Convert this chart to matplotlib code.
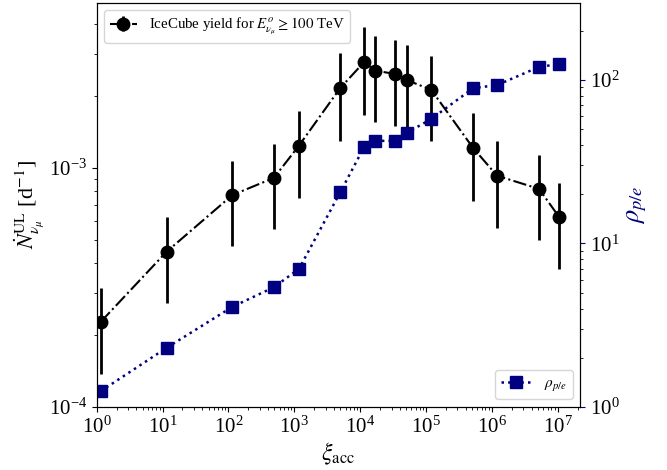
import matplotlib
matplotlib.use("Agg")
import matplotlib.pyplot as plt
from matplotlib.ticker import LogLocator

plt.rcParams['font.family'] = ['Liberation Serif', 'DejaVu Serif']
plt.rcParams['mathtext.fontset'] = 'stix'

# xi_acc values
xi_acc = [1.15, 11.5, 115, 490, 1180, 5000, 1.15e4, 1.7e4, 3.4e4, 5.1e4,
          1.2e5, 5.2e5, 1.2e6, 5.2e6, 1.05e7]
# IceCube yield (upper limit rate, 1/day) and errors
n_ul = [2.27e-4, 4.46e-4, 7.7e-4, 9.08e-4, 1.24e-3, 2.16e-3, 2.77e-3, 2.55e-3,
        2.47e-3, 2.33e-3, 2.12e-3, 1.21e-3, 9.27e-4, 8.17e-4, 6.23e-4]
n_err = [0.89e-4, 1.75e-4, 3.0e-4, 3.55e-4, 4.9e-4, 8.6e-4, 1.1e-3, 1.0e-3,
         9.7e-4, 9.2e-4, 8.3e-4, 4.8e-4, 3.65e-4, 3.2e-4, 2.45e-4]
# proton-to-electron ratio
rho_pe = [1.25, 2.3, 4.1, 5.4, 7.0, 20.6, 38.9, 42.4, 42.4, 47.4,
          57.7, 89, 93, 120, 125]

fig, ax = plt.subplots(figsize=(6.67, 4.7), dpi=100)
fig.subplots_adjust(left=0.145, right=0.87, bottom=0.134, top=0.994)

ax.errorbar(xi_acc, n_ul, yerr=n_err, fmt='o', ls='-.', color='black',
            ms=9, lw=1.5, elinewidth=2,
            label=r'IceCube yield for $E^{o}_{\nu_\mu} \geq 100$ TeV')
ax.set_xscale('log')
ax.set_yscale('log')
ax.set_xlim(1, 2.2e7)
ax.set_ylim(1e-4, 4.9e-3)
ax.xaxis.set_major_locator(LogLocator(base=10, numticks=20))
ax.xaxis.set_minor_locator(LogLocator(base=10, subs=range(2, 10), numticks=20))
ax.set_xlabel(r'$\xi_{\rm acc}$', fontsize=17, labelpad=2)
ax.set_ylabel(r'$\dot{N}^{\rm UL}_{\nu_\mu}$ [d$^{-1}$]', fontsize=16, labelpad=2)
ax.tick_params(labelsize=15)
ax.legend(loc='upper left', fontsize=10.7, handlelength=1.8)

ax2 = ax.twinx()
ax2.plot(xi_acc, rho_pe, marker='s', ls=':', color='navy', ms=8, lw=1.8,
         label=r'$\rho_{p/e}$')
ax2.set_yscale('log')
ax2.set_ylim(1, 296)
ax2.set_ylabel(r'$\rho_{p/e}$', color='navy', fontsize=19)
ax2.tick_params(labelsize=15)
ax2.tick_params(axis='y', which='major', color='navy')
ax2.legend(loc='lower right', fontsize=11)

fig.savefig('out.png', dpi=100)
